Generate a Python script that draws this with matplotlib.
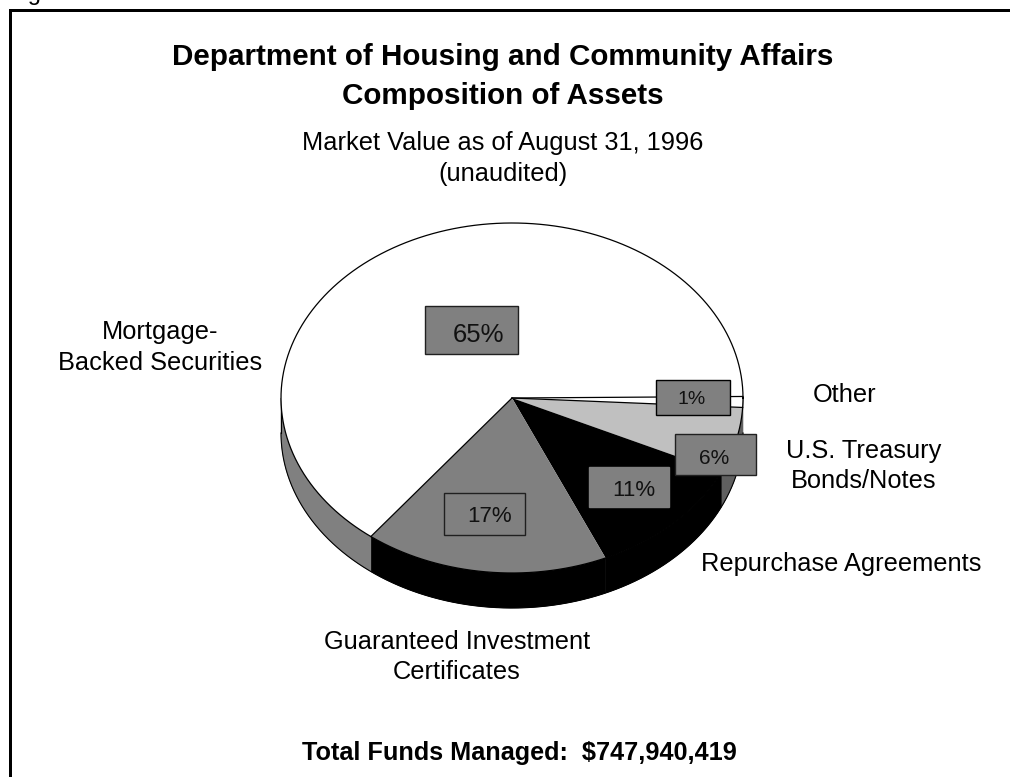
import numpy as np
import matplotlib
matplotlib.use("Agg")
import matplotlib.pyplot as plt
from matplotlib.patches import Rectangle

plt.rcParams['font.family'] = ['Liberation Sans', 'DejaVu Sans']

W, H = 1010, 777
categories = ['Other', 'U.S. Treasury\nBonds/Notes', 'Repurchase Agreements',
              'Guaranteed Investment\nCertificates', 'Mortgage-\nBacked Securities']
values = [1.0, 6.1, 11.4, 17.1, 64.4]
pct_labels = ['1%', '6%', '11%', '17%', '65%']
top_colors = ['#ffffff', '#c0c0c0', '#000000', '#808080', '#ffffff']
side_colors = ['#606060', '#606060', '#000000', '#000000', '#808080']
start_angle = 0.5

fig = plt.figure(figsize=(W / 100, H / 100), dpi=100)
px = fig.add_axes([0, 0, 1, 1])
px.set_xlim(0, W); px.set_ylim(H, 0); px.axis('off')

# frame (open on the right and bottom)
px.plot([9.5, 9.5, 1010], [777, 9.5, 9.5], color='black', lw=2.16, solid_joinstyle='miter', zorder=1)

cx, cy, rx, ry, depth = 512, 398, 231, 175, 35

# pie side wall, drawn as elliptical bands
cum = start_angle - np.cumsum([0] + values) * 3.6
for i in range(len(values)):
    a0, a1 = cum[i], cum[i + 1]
    lo = max(a1, -180)
    hi = min(a0, 0)
    if lo >= hi:
        continue
    t = np.radians(np.linspace(hi, lo, 120))
    x = cx + rx * np.cos(t)
    y = cy - ry * np.sin(t)
    px.fill(np.r_[x, x[::-1]], np.r_[y, y[::-1] + depth], facecolor=side_colors[i],
            edgecolor=side_colors[i], lw=0.4, zorder=2)
t = np.radians(np.linspace(0, -180, 300))
px.plot(cx + rx * np.cos(t), cy - ry * np.sin(t) + depth, color='black', lw=0.8, zorder=3)
px.plot([cx - rx, cx - rx], [cy, cy + depth], color='black', lw=0.8, zorder=3)

# pie top: real pie in an axes spanning the ellipse
ax = fig.add_axes([(cx - rx) / W, 1 - (cy + ry) / H, 2 * rx / W, 2 * ry / H])
wedges, _ = ax.pie(values, colors=top_colors, startangle=start_angle, counterclock=False,
                   radius=1, wedgeprops=dict(edgecolor='none'))
ax.set_aspect('auto')
ax.set_xlim(-1, 1); ax.set_ylim(-1, 1)
ax.patch.set_alpha(0)
ax.set_zorder(2)
t = np.radians(np.linspace(0, 360, 400))
ax.plot(np.cos(t), np.sin(t), color='black', lw=0.9, clip_on=False)
# dividing strokes
for i in [0, 1, 4]:
    a = np.radians(cum[i])
    ax.plot([0, np.cos(a)], [0, np.sin(a)], color='black', lw=0.9, clip_on=False)

over = fig.add_axes([0, 0, 1, 1])
over.set_xlim(0, W); over.set_ylim(H, 0); over.axis('off'); over.set_zorder(3)
over.patch.set_alpha(0)

# percent boxes: (x0, y0, x1, y1), edge, text centre
boxes = [(655.5, 379.5, 730, 415, 'black', 692, 400, 14),
         (674.5, 433.5, 755.5, 474.5, '#202020', 714, 458, 15),
         (588.5, 466.5, 668.5, 506.5, '#808080', 633.5, 490, 16),
         (444, 493, 525, 534.5, '#202020', 490, 516, 16),
         (425, 306, 518, 354, '#202020', 478, 335, 18.5)]
for lab, (x0, y0, x1, y1, ec, tx, ty, fs) in zip(pct_labels, boxes):
    over.add_patch(Rectangle((x0, y0), x1 - x0, y1 - y0, facecolor='#808080', edgecolor=ec, lw=1))
    over.text(tx, ty, lab, ha='center', va='center', fontsize=fs, color='#111111')

def T(x, y, s, fs=18.3, w='normal', ls=1.36):
    over.text(x, y, s, ha='center', va='center', fontsize=fs, fontweight=w, color='black', linespacing=ls)

T(502.5, 76.5, 'Department of Housing and Community Affairs\nComposition of Assets', fs=21.3, w='bold', ls=1.48)
T(503, 158.5, 'Market Value as of August 31, 1996\n(unaudited)', ls=1.36)
T(160, 347.5, categories[4])
T(457, 657, categories[3])
T(841, 564, categories[2])
T(864, 466, categories[1])
T(845, 395, categories[0])
T(519, 753, 'Total Funds Managed:  $747,940,419', fs=18.2, w='bold')
over.text(8, 0, 'Figure', ha='left', va='baseline', fontsize=17, color='black')

fig.savefig('out.png', dpi=100, facecolor='white')
